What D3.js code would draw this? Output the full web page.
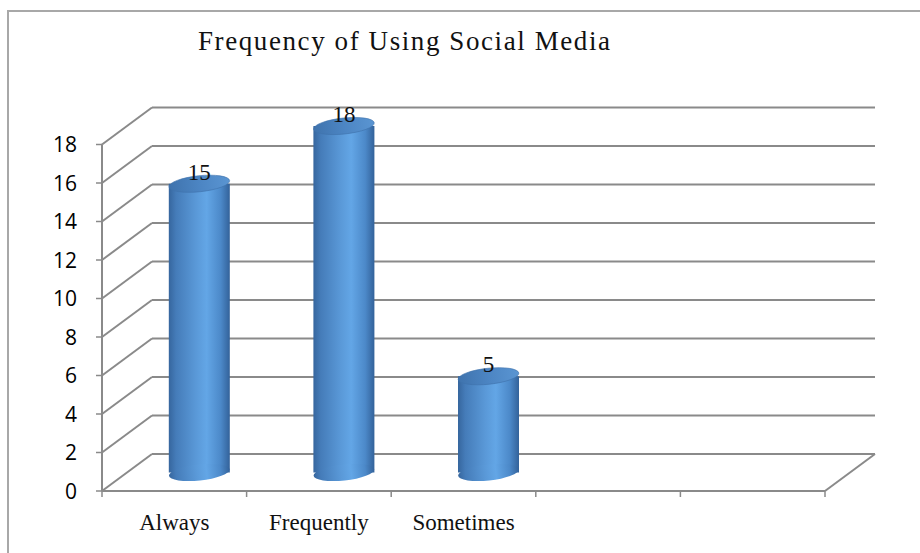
<!DOCTYPE html>
<html>
<head>
<meta charset="utf-8">
<script src="https://cdn.jsdelivr.net/npm/d3@7"></script>
<style>
  html, body { margin: 0; padding: 0; background: #fff; }
  svg { display: block; }
</style>
</head>
<body>
<div id="chart"></div>
<script>
const title = 'Frequency of  Using Social Media';
const categories = ['Always', 'Frequently', 'Sometimes', '', ''];
const values = [15, 18, 5, null, null];
const yTicks = [0, 2, 4, 6, 8, 10, 12, 14, 16, 18];

(function () {
  const W = 920, H = 553;
  const gridColor = '#8a8a8a';

  const svg = d3.select('#chart')
    .append('svg')
    .attr('width', W)
    .attr('height', H);

  const defs = svg.append('defs');

  // cylinder side shading
  const side = defs.append('linearGradient')
    .attr('id', 'cylSide')
    .attr('x1', 0).attr('x2', 1).attr('y1', 0).attr('y2', 0);
  [[0, '#36669e'], [0.12, '#457cb9'], [0.45, '#5a99d8'], [0.62, '#63a6e6'],
   [0.85, '#4c89c9'], [1, '#33629a']].forEach(([o, c]) => {
    side.append('stop').attr('offset', o).attr('stop-color', c);
  });

  const top = defs.append('linearGradient')
    .attr('id', 'cylTop')
    .attr('x1', 0).attr('x2', 1).attr('y1', 0).attr('y2', 0);
  [[0, '#3f73ad'], [0.5, '#4c85c3'], [1, '#5a95d2']].forEach(([o, c]) => {
    top.append('stop').attr('offset', o).attr('stop-color', c);
  });

  // outer frame
  svg.append('rect')
    .attr('x', 8).attr('y', 11)
    .attr('width', 930).attr('height', 560)
    .attr('fill', 'none')
    .attr('stroke', '#a8a8a8')
    .attr('stroke-width', 2);

  svg.append('text')
    .attr('x', 198)
    .attr('y', 50)
    .attr('textLength', 412)
    .attr('lengthAdjust', 'spacing')
    .attr('font-family', '"Liberation Serif", serif')
    .attr('font-size', 27)
    .attr('fill', '#111')
    .text(title);

  const x = d3.scaleBand()
    .domain(d3.range(categories.length))
    .range([102, 825]);

  const y = d3.scaleLinear()
    .domain([0, 18])
    .range([491, 144.5]);

  const dx = 50, dy = -37;
  const x0 = x.range()[0], x1 = x.range()[1];

  const grid = svg.append('g')
    .attr('stroke', gridColor)
    .attr('stroke-width', 2)
    .attr('fill', 'none');

  // back wall lines (0 is the floor's back edge)
  grid.selectAll('line.back')
    .data(yTicks)
    .enter().append('line')
    .attr('class', 'back')
    .attr('x1', x0 + dx).attr('x2', x1 + dx)
    .attr('y1', d => y(d) + dy).attr('y2', d => y(d) + dy);

  // side wall diagonals
  grid.selectAll('line.side')
    .data(yTicks)
    .enter().append('line')
    .attr('class', 'side')
    .attr('x1', x0).attr('x2', x0 + dx)
    .attr('y1', d => y(d)).attr('y2', d => y(d) + dy);

  // floor front edge and right diagonal
  grid.append('line')
    .attr('x1', x0).attr('x2', x1)
    .attr('y1', y(0)).attr('y2', y(0));
  grid.append('line')
    .attr('x1', x1).attr('x2', x1 + dx)
    .attr('y1', y(0)).attr('y2', y(0) + dy);

  // front vertical axis
  grid.append('line')
    .attr('x1', x0).attr('x2', x0)
    .attr('y1', y(0)).attr('y2', y(18));

  // y ticks
  grid.selectAll('line.ytick')
    .data(yTicks)
    .enter().append('line')
    .attr('class', 'ytick')
    .attr('stroke-width', 1.5)
    .attr('x1', x0 - 6).attr('x2', x0)
    .attr('y1', d => y(d)).attr('y2', d => y(d));

  // x ticks at slot edges
  const edges = d3.range(categories.length + 1).map(i => x0 + i * x.step());
  grid.selectAll('line.xtick')
    .data(edges)
    .enter().append('line')
    .attr('class', 'xtick')
    .attr('stroke-width', 1.5)
    .attr('x1', d => d).attr('x2', d => d)
    .attr('y1', y(0)).attr('y2', y(0) + 6);

  svg.append('g').selectAll('text')
    .data(yTicks)
    .enter().append('text')
    .attr('x', 77)
    .attr('y', d => y(d))
    .attr('dy', '0.37em')
    .attr('text-anchor', 'end')
    .attr('font-family', '"Open Sans", sans-serif')
    .attr('font-size', 21)
    .attr('fill', '#000')
    .text(d => d);

  svg.append('g').selectAll('text')
    .data(categories)
    .enter().append('text')
    .attr('x', (d, i) => x(i) + x.bandwidth() / 2)
    .attr('y', 530)
    .attr('text-anchor', 'middle')
    .attr('font-family', '"Liberation Serif", serif')
    .attr('font-size', 23)
    .attr('fill', '#111')
    .text(d => d);

  // cylinders at mid depth
  const rx = 30.5, ry = 8, tilt = -6;
  const bars = values
    .map((v, i) => ({ v, i }))
    .filter(d => d.v != null);

  const g = svg.append('g');
  bars.forEach(d => {
    const cx = x(d.i) + x.bandwidth() / 2 + dx / 2;
    const by = y(0) + dy / 2;
    const ty = y(d.v) + dy / 2;

    g.append('rect')
      .attr('x', cx - rx).attr('y', ty)
      .attr('width', rx * 2).attr('height', by - ty)
      .attr('fill', 'url(#cylSide)');

    g.append('ellipse')
      .attr('cx', cx).attr('cy', by)
      .attr('rx', rx).attr('ry', ry)
      .attr('transform', `rotate(${tilt},${cx},${by})`)
      .attr('fill', 'url(#cylSide)');

    g.append('ellipse')
      .attr('cx', cx).attr('cy', ty)
      .attr('rx', rx).attr('ry', ry)
      .attr('transform', `rotate(${tilt},${cx},${ty})`)
      .attr('fill', 'url(#cylTop)')
      .attr('stroke', '#3e72ab')
      .attr('stroke-width', 0.6);

    g.append('text')
      .attr('x', cx)
      .attr('y', ty - 4)
      .attr('text-anchor', 'middle')
      .attr('font-family', '"Liberation Serif", serif')
      .attr('font-size', 23)
      .attr('fill', '#111')
      .text(d.v);
  });
})();
</script>
</body>
</html>
